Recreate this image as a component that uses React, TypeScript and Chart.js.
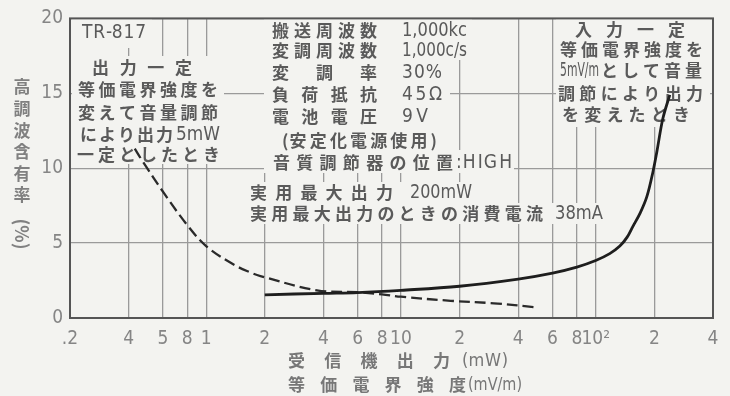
import React, { useEffect, useRef } from "react";
import { Chart, registerables } from "chart.js";
Chart.register(...registerables);

// ---- data ----
const XTICKS = [0.2, 0.4, 0.6, 0.8, 1, 2, 4, 6, 8, 10, 20, 40, 60, 80, 100, 200, 400];
const XTICK_LABELS = [".2", "4", "5", "8", "1", "2", "4", "6", "8", "10", "2", "4", "6", "8", "10²", "2", "4"];

// 入力一定 (solid)
const SOLID_X = [2, 4, 6, 10, 20, 40, 60, 80, 100, 118, 133, 145, 155, 169, 183, 197, 206, 221, 240];
const SOLID_Y = [1.55, 1.65, 1.7, 1.85, 2.12, 2.6, 3.0, 3.4, 3.84, 4.3, 4.8, 5.4, 6.1, 7.0, 8.1, 9.8, 11.1, 13.3, 14.9];

// 出力一定 (dashed)
const DASH_X = [0.43, 0.47, 0.61, 0.8, 1.0, 1.37, 1.68, 1.9, 3.7, 6, 8, 10, 18, 30, 49];
const DASH_Y = [11.3, 10.5, 8.3, 6.2, 4.8, 3.6, 3.05, 2.8, 1.85, 1.72, 1.58, 1.42, 1.15, 0.98, 0.72];

const Y_TITLE_CHARS = ["高", "調", "波", "含", "有", "率"];

// ---- layout of texts (text, left, right, centerY) ----
const TEXTS: [string, number, number, number][] = [
  ["TR-817", 82, 146, 33],
  ["出力一定", 92, 192, 68],
  ["等価電界強度を", 78, 218, 90],
  ["変えて音量調節", 78, 218, 113],
  ["により出力", 80, 173, 135],
  ["5mW", 176, 220, 135],
  ["一定としたとき", 77, 220, 155],
  ["搬送周波数", 272, 377, 31],
  ["1,000kc", 402, 467, 31],
  ["変調周波数", 272, 377, 51],
  ["1,000c/s", 402, 467, 51],
  ["変調率", 272, 377, 73],
  ["30%", 402, 442, 73],
  ["負荷抵抗", 272, 377, 95],
  ["45Ω", 402, 442, 95],
  ["電池電圧", 272, 377, 117],
  ["9V", 402, 428, 117],
  ["(安定化電源使用)", 282, 437, 141],
  ["音質調節器の位置", 273, 453, 163],
  [":HIGH", 456, 512, 163],
  ["実用最大出力", 250, 393, 193],
  ["200mW", 410, 472, 193],
  ["実用最大出力のときの消費電流", 250, 543, 214],
  ["38mA", 555, 603, 214],
  ["入力一定", 575, 685, 30],
  ["等価電界強度を", 560, 703, 50],
  ["5mV/m", 560, 599, 71],
  ["として音量", 601, 702, 71],
  ["調節により出力", 558, 703, 94],
  ["を変えたとき", 562, 690, 115],
];

const MASKS: [number, number, number, number][] = [
  [72, 18, 152, 48],
  [72, 56, 224, 164],
  [264, 18, 472, 60],
  [264, 60, 450, 150],
  [264, 150, 514, 173],
  [248, 182, 474, 203],
  [248, 203, 606, 224],
  [556, 18, 710, 127],
];

const BG = "#f3f3f0";
const CJK = "'Noto Sans CJK JP', 'Noto Sans', sans-serif";
const NUM = "'Liberation Sans Narrow', 'DejaVu Sans Condensed', 'Liberation Sans', sans-serif";

function drawFit(ctx: CanvasRenderingContext2D, text: string, x0: number, x1: number, y: number) {
  const chars = Array.from(text);
  const n = chars.length;
  const total = ctx.measureText(text).width;
  const lastW = ctx.measureText(chars[n - 1]).width;
  if (n === 1) {
    ctx.fillText(text, (x0 + x1) / 2 - lastW / 2, y);
    return;
  }
  if (total >= x1 - x0) {
    ctx.fillText(text, x0, y, x1 - x0);
    return;
  }
  const k = (x1 - x0 - lastW) / (total - lastW);
  let prefix = "";
  for (let i = 0; i < n; i++) {
    const ox = ctx.measureText(prefix).width;
    ctx.fillText(chars[i], x0 + ox * k, y);
    prefix += chars[i];
  }
}

const isLatin = (s: string) => /^[\x20-\x7eΩ]+$/.test(s);

const decoPlugin = {
  id: "deco",
  beforeDraw(chart: any) {
    const ctx = chart.ctx as CanvasRenderingContext2D;
    ctx.save();
    ctx.fillStyle = BG;
    ctx.fillRect(0, 0, chart.width, chart.height);
    ctx.restore();
  },
  beforeDatasetsDraw(chart: any) {
    const ctx = chart.ctx as CanvasRenderingContext2D;
    const a = chart.chartArea;
    ctx.save();
    // masks
    ctx.fillStyle = BG;
    for (const [x0, y0, x1, y1] of MASKS) ctx.fillRect(x0, y0, x1 - x0, y1 - y0);
    // border
    ctx.strokeStyle = "#555";
    ctx.lineWidth = 2;
    ctx.strokeRect(a.left, a.top, a.right - a.left, a.bottom - a.top);
    // annotation texts
    ctx.fillStyle = "#5a5a5a";
    ctx.textBaseline = "middle";
    ctx.textAlign = "left";
    for (const [t, x0, x1, y] of TEXTS) {
      ctx.font = isLatin(t) ? `19px ${NUM}` : `bold 17px ${CJK}`;
      drawFit(ctx, t, x0, x1, y);
    }
    // y title
    ctx.fillStyle = "#808080";
    ctx.font = `bold 17px ${CJK}`;
    ctx.textAlign = "center";
    Y_TITLE_CHARS.forEach((c, i) => ctx.fillText(c, 22, 87 + i * 21.6));
    ctx.save();
    ctx.translate(22, 234);
    ctx.rotate(Math.PI / 2);
    ctx.font = `bold 18px ${CJK}`;
    ctx.fillText("(%)", 0, 0);
    ctx.restore();
    // x title
    ctx.textAlign = "left";
    ctx.fillStyle = "#777";
    ctx.font = `bold 17px ${CJK}`;
    drawFit(ctx, "受信機出力", 288, 450, 361);
    drawFit(ctx, "等価電界強度", 288, 466, 385);
    ctx.font = `18px ${NUM}`;
    drawFit(ctx, "(mW)", 462, 508, 361);
    drawFit(ctx, "(mV/m)", 468, 522, 385);
    ctx.restore();
  },
};

export default function App() {
  const ref = useRef<HTMLCanvasElement>(null);
  useEffect(() => {
    const gridCommon = { color: "#9a9a9a", lineWidth: 1.3, drawTicks: false };
    const chart = new Chart(ref.current!, {
      type: "line",
      data: {
        datasets: [
          {
            data: SOLID_X.map((x, i) => ({ x, y: SOLID_Y[i] })),
            borderColor: "#1e1e1e",
            borderWidth: 2.8,
            pointRadius: 0,
            tension: 0.35,
            fill: false,
          },
          {
            data: DASH_X.map((x, i) => ({ x, y: DASH_Y[i] })),
            borderColor: "#2a2a2a",
            borderWidth: 2.3,
            borderDash: [11, 5],
            pointRadius: 0,
            tension: 0.35,
            fill: false,
          },
        ],
      },
      options: {
        responsive: false,
        animation: false,
        devicePixelRatio: 1,
        layout: { padding: { top: 15, right: 17, left: 0, bottom: 0 } },
        plugins: { legend: { display: false }, tooltip: { enabled: false } },
        scales: {
          x: {
            type: "logarithmic",
            min: 0.2,
            max: 400,
            afterBuildTicks: (s: any) => {
              s.ticks = XTICKS.map((v) => ({ value: v }));
            },
            afterFit: (s: any) => {
              s.height = 78;
            },
            ticks: {
              autoSkip: false,
              maxRotation: 0,
              minRotation: 0,
              padding: 10,
              color: "#858585",
              font: { family: NUM, size: 19 },
              callback: (_v: any, i: number) => XTICK_LABELS[i],
            },
            grid: gridCommon,
            border: { display: false },
          },
          y: {
            type: "linear",
            min: 0,
            max: 20,
            afterFit: (s: any) => {
              s.width = 70;
            },
            ticks: {
              stepSize: 5,
              padding: 7,
              color: "#858585",
              font: { family: NUM, size: 19 },
            },
            grid: gridCommon,
            border: { display: false },
          },
        },
      } as any,
      plugins: [decoPlugin],
    });
    return () => chart.destroy();
  }, []);
  return (
    <div style={{ position: "fixed", left: 0, top: 0, width: 730, height: 396, background: BG }}>
      <canvas ref={ref} width={730} height={396} style={{ display: "block", width: 730, height: 396 }} />
    </div>
  );
}
